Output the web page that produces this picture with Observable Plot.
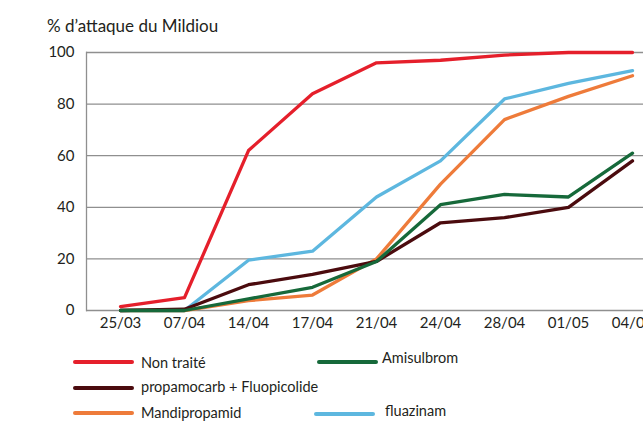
<!DOCTYPE html>
<html><head><meta charset="utf-8">
<script src="https://cdn.jsdelivr.net/npm/d3@7"></script>
<script src="https://cdn.jsdelivr.net/npm/@observablehq/plot@0.6"></script>
<style>
body{margin:0;width:643px;height:429px;overflow:hidden;background:#fff;font-family:Lato, sans-serif;color:#231f20;}
#wrap{position:relative;width:643px;height:429px;overflow:hidden;}
#title{position:absolute;left:47px;top:16px;font-size:17px;white-space:nowrap;line-height:20px;}
#chart{position:absolute;left:0;top:40px;width:680px;}
#chart svg{max-width:none !important;}
.leg{position:absolute;font-size:14.5px;white-space:nowrap;line-height:18px;}
.sw{position:absolute;height:3.5px;width:61px;border-radius:2px;}
</style></head><body>
<div id="wrap">
  <div id="title">% d’attaque du Mildiou</div>
  <div id="chart"></div>
  <div id="legend"></div>
</div>
<script>
const dates = ["25/03","07/04","14/04","17/04","21/04","24/04","28/04","01/05","04/05"];
const yTicks = [0,20,40,60,80,100];
const series = ["Non traité","Amisulbrom","propamocarb + Fluopicolide","Mandipropamid","fluazinam"];
const colors = ["#e51f2b","#16693a","#4b0b0e","#ee7b3a","#5db7df"];
const nonTraite     = [1.5, 5, 62, 84, 96, 97, 99, 100, 100];
const amisulbrom    = [0, 0, 4.5, 9, 19, 41, 45, 44, 61];
const propamocarb   = [0, 0.5, 10, 14, 19, 34, 36, 40, 58];
const mandipropamid = [0, 0, 3.8, 6, 20, 49, 74, 83, 91];
const fluazinam     = [0, 0, 19.5, 23, 44, 58, 82, 88, 93];

const valuesBySeries = {
  "Non traité": nonTraite,
  "Amisulbrom": amisulbrom,
  "propamocarb + Fluopicolide": propamocarb,
  "Mandipropamid": mandipropamid,
  "fluazinam": fluazinam
};
const drawOrder = ["fluazinam","Mandipropamid","propamocarb + Fluopicolide","Amisulbrom","Non traité"];
const rows = drawOrder.flatMap(s => valuesBySeries[s].map((v,i) => ({series:s, date:dates[i], value:v})));

const chart = Plot.plot({
  width: 680, height: 300,
  marginLeft: 86, marginRight: 13.5, marginTop: 12, marginBottom: 30,
  style: {fontFamily: "Lato, sans-serif", fontSize: "15px", color: "#231f20", background: "transparent", maxWidth: "none"},
  x: {type: "point", domain: dates, padding: 0.5, label: null},
  y: {domain: [0,100], ticks: yTicks, label: null},
  color: {domain: series, range: colors},
  marks: [
    Plot.ruleY(yTicks, {stroke: "#8f8f8f", strokeWidth: 1.3}),
    Plot.frame({anchor: "left", stroke: "#8f8f8f", strokeWidth: 1.3}),
    Plot.axisY({ticks: yTicks, tickSize: 0, tickPadding: 12, label: null}),
    Plot.axisX({tickSize: 0, tickPadding: 7, label: null}),
    Plot.line(rows, {x: "date", y: "value", z: "series", stroke: "series", strokeWidth: 3.3, strokeLinejoin: "round", strokeLinecap: "round"})
  ]
});
document.getElementById("chart").appendChild(chart);

// legend (HTML, below the chart)
const legendPos = {
  "Non traité": {sx:73, sy:362, tx:141, ty:363},
  "Amisulbrom": {sx:317, sy:362, tx:382, ty:358},
  "propamocarb + Fluopicolide": {sx:73, sy:388, tx:141, ty:387},
  "Mandipropamid": {sx:73, sy:413, tx:141, ty:413},
  "fluazinam": {sx:314, sy:414, tx:385, ty:411}
};
const leg = document.getElementById("legend");
series.forEach((s,i) => {
  const p = legendPos[s];
  const sw = document.createElement("div");
  sw.className = "sw";
  sw.style.left = p.sx + "px"; sw.style.top = (p.sy - 1.75) + "px";
  sw.style.background = colors[i];
  leg.appendChild(sw);
  const t = document.createElement("div");
  t.className = "leg";
  t.textContent = s;
  t.style.left = p.tx + "px"; t.style.top = (p.ty - 9) + "px";
  leg.appendChild(t);
});
</script>
</body></html>
